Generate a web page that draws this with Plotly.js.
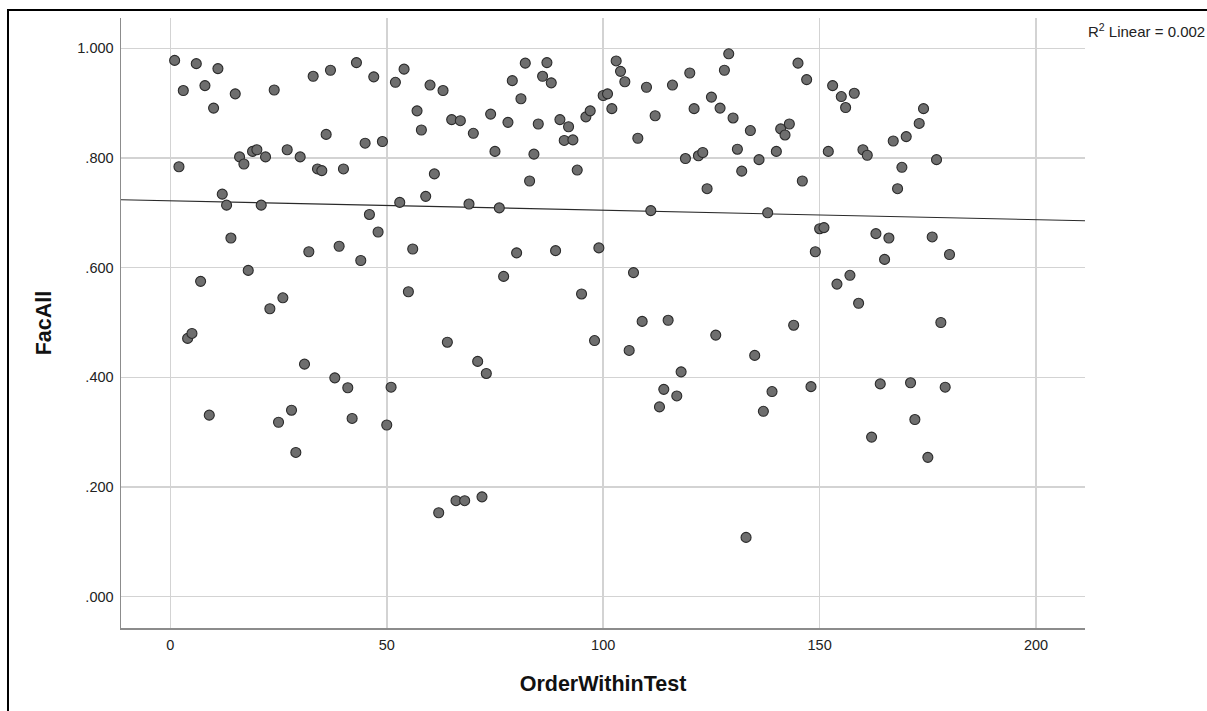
<!DOCTYPE html>
<html>
<head>
<meta charset="utf-8">
<script src="https://cdn.plot.ly/plotly-3.0.1.min.js"></script>
<style>
  html, body { margin: 0; padding: 0; background: #fff; }
  #chart { width: 1207px; height: 711px; }
</style>
</head>
<body>
<div id="chart"></div>
<script>
// ---- data ----
const orderWithinTest = [];
for (let i = 1; i <= 180; i++) orderWithinTest.push(i);

const facAll = [
  0.978, 0.784, 0.923, 0.471, 0.480, 0.972, 0.575, 0.932, 0.331, 0.891,
  0.963, 0.734, 0.714, 0.654, 0.917, 0.802, 0.789, 0.595, 0.812, 0.815,
  0.714, 0.802, 0.525, 0.924, 0.318, 0.545, 0.815, 0.340, 0.263, 0.802,
  0.424, 0.629, 0.949, 0.780, 0.777, 0.843, 0.960, 0.399, 0.639, 0.780,
  0.381, 0.325, 0.974, 0.613, 0.827, 0.697, 0.948, 0.665, 0.830, 0.313,
  0.382, 0.938, 0.719, 0.962, 0.556, 0.634, 0.886, 0.851, 0.730, 0.933,
  0.771, 0.153, 0.923, 0.464, 0.870, 0.175, 0.868, 0.175, 0.716, 0.845,
  0.429, 0.182, 0.407, 0.880, 0.812, 0.709, 0.584, 0.865, 0.941, 0.627,
  0.908, 0.973, 0.758, 0.807, 0.862, 0.949, 0.974, 0.937, 0.631, 0.870,
  0.832, 0.857, 0.833, 0.778, 0.552, 0.875, 0.886, 0.467, 0.636, 0.914,
  0.917, 0.890, 0.977, 0.958, 0.939, 0.449, 0.591, 0.836, 0.502, 0.929,
  0.704, 0.877, 0.346, 0.378, 0.504, 0.933, 0.366, 0.410, 0.799, 0.955,
  0.890, 0.804, 0.810, 0.744, 0.911, 0.477, 0.891, 0.960, 0.990, 0.873,
  0.816, 0.776, 0.108, 0.850, 0.440, 0.797, 0.338, 0.700, 0.374, 0.812,
  0.853, 0.842, 0.862, 0.495, 0.973, 0.758, 0.943, 0.383, 0.629, 0.671,
  0.673, 0.812, 0.932, 0.570, 0.912, 0.892, 0.586, 0.918, 0.535, 0.815,
  0.805, 0.291, 0.662, 0.388, 0.615, 0.654, 0.831, 0.744, 0.783, 0.839,
  0.390, 0.323, 0.863, 0.890, 0.254, 0.656, 0.797, 0.500, 0.382, 0.624
];

// linear fit line
const fitIntercept = 0.722;
const fitSlope = -0.0001724;
const r2Label = "R<sup>2</sup> Linear = 0.002";

// axes
const xRange = [-11.39, 211.3];
const yRange = [-0.0572, 1.0553];
const xTickVals = [0, 50, 100, 150, 200];
const xTickText = ["0", "50", "100", "150", "200"];
const yTickVals = [0, 0.2, 0.4, 0.6, 0.8, 1.0];
const yTickText = [".000", ".200", ".400", ".600", ".800", "1.000"];

const fitX = xRange.slice();
const fitY = fitX.map(x => fitIntercept + fitSlope * x);

const FONT = "Liberation Sans, Arial, sans-serif";

const traces = [
  {
    x: fitX, y: fitY, type: "scatter", mode: "lines",
    line: { color: "#2a2a2a", width: 1.1 },
    hoverinfo: "skip", showlegend: false
  },
  {
    x: orderWithinTest, y: facAll, type: "scatter", mode: "markers",
    marker: { size: 10, color: "#6e6e6e", line: { color: "#2b2b2b", width: 1.1 } },
    showlegend: false
  }
];

const layout = {
  width: 1207, height: 711,
  margin: { l: 121, r: 122, t: 18, b: 83, pad: 0 },
  paper_bgcolor: "#ffffff",
  plot_bgcolor: "#ffffff",
  font: { family: FONT, color: "#222" },
  showlegend: false,
  xaxis: {
    range: xRange, tickvals: xTickVals, ticktext: xTickText,
    showgrid: true, gridcolor: "#d3d3d3", gridwidth: 1.5,
    zeroline: false, showline: true, linecolor: "#8c8c8c", linewidth: 1.5,
    ticks: "", ticklabelstandoff: 3,
    tickfont: { family: FONT, size: 14.5, color: "#222" },
    title: { text: "OrderWithinTest", font: { family: FONT, size: 21.5, color: "#111", weight: "bold" }, standoff: 24 },
    automargin: false
  },
  yaxis: {
    range: yRange, tickvals: yTickVals, ticktext: yTickText,
    showgrid: true, gridcolor: "#d3d3d3", gridwidth: 1.5,
    zeroline: false, showline: true, linecolor: "#8c8c8c", linewidth: 1.5,
    ticks: "", ticklabelstandoff: 3,
    tickfont: { family: FONT, size: 14.5, color: "#222" },
    title: { text: "FacAll", font: { family: FONT, size: 21.5, color: "#111", weight: "bold" }, standoff: 20 },
    automargin: false
  },
  annotations: [
    {
      text: r2Label, xref: "paper", yref: "paper",
      x: 1.001, y: 0.9787, xanchor: "left", yanchor: "middle",
      showarrow: false, font: { family: FONT, size: 15, color: "#222" }
    }
  ],
  shapes: [
    { type: "line", xref: "paper", yref: "paper", x0: -0.11722, x1: -0.11722, y0: 1.01311, y1: -0.2,
      line: { color: "#000", width: 2 } },
    { type: "line", xref: "paper", yref: "paper", x0: -0.11826, x1: 1.2, y0: 1.01311, y1: 1.01311,
      line: { color: "#000", width: 2 } }
  ]
};

Plotly.newPlot("chart", traces, layout, { displayModeBar: false, staticPlot: true });
</script>
</body>
</html>
